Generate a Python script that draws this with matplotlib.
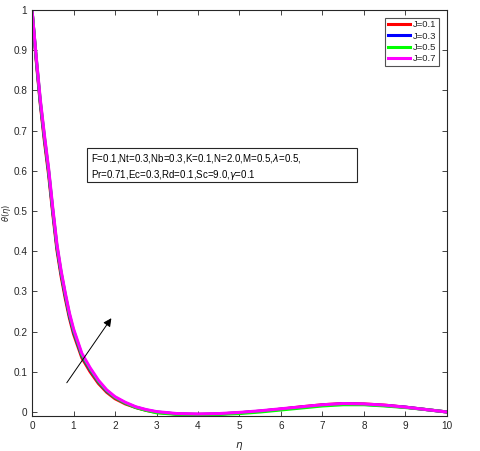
import matplotlib.pyplot as plt
from matplotlib.patches import Rectangle

# eta grid and theta profiles for each J
eta = [0, 0.1, 0.2, 0.3, 0.4, 0.5, 0.6, 0.7, 0.8, 0.9, 1.0, 1.2, 1.4, 1.6, 1.8, 2.0,
       2.25, 2.5, 2.75, 3.0, 3.5, 4.0, 4.5, 5.0, 5.5, 6.0, 6.5, 7.0, 7.5, 8.0, 8.5, 9.0, 9.5, 10.0]

theta_j01 = [1.0, 0.875, 0.765, 0.672, 0.59, 0.493, 0.403, 0.338, 0.283, 0.234, 0.194, 0.135, 0.1,
             0.071, 0.049, 0.033, 0.02, 0.011, 0.004, -0.001, -0.005, -0.006, -0.005, -0.002, 0.002,
             0.007, 0.013, 0.018, 0.021, 0.02, 0.017, 0.012, 0.006, 0.0]
theta_j03 = [1.0, 0.88, 0.77, 0.68, 0.598, 0.5, 0.41, 0.345, 0.29, 0.24, 0.2, 0.14, 0.105,
             0.075, 0.052, 0.036, 0.022, 0.012, 0.005, 0.0, -0.005, -0.006, -0.005, -0.002, 0.002,
             0.007, 0.012, 0.017, 0.02, 0.019, 0.016, 0.012, 0.006, 0.0]
theta_j05 = [1.0, 0.882, 0.773, 0.683, 0.601, 0.503, 0.413, 0.348, 0.293, 0.243, 0.203, 0.142, 0.107,
             0.076, 0.053, 0.036, 0.022, 0.011, 0.004, -0.002, -0.006, -0.007, -0.006, -0.004, 0.0,
             0.005, 0.01, 0.015, 0.018, 0.018, 0.015, 0.011, 0.006, 0.0]
theta_j07 = [1.0, 0.885, 0.777, 0.688, 0.606, 0.508, 0.418, 0.352, 0.297, 0.247, 0.207, 0.146, 0.11,
             0.079, 0.055, 0.038, 0.024, 0.013, 0.006, 0.001, -0.004, -0.005, -0.004, -0.001, 0.003,
             0.008, 0.013, 0.018, 0.021, 0.02, 0.017, 0.012, 0.006, 0.0]

labels = ['J=0.1', 'J=0.3', 'J=0.5', 'J=0.7']
colors = ['#ff0000', '#0000ff', '#00ff00', '#ff00ff']
series = [theta_j01, theta_j03, theta_j05, theta_j07]

plt.rcParams['font.family'] = ['Liberation Sans', 'DejaVu Sans']

fig = plt.figure(figsize=(4.8, 4.51), dpi=100)
ax = fig.add_axes([0.0667, 0.0776, 0.8645, 0.9002])

for th, c, lab in zip(series, colors, labels):
    ax.plot(eta, th, color=c, lw=2.2, label=lab)

ax.set_xlim(0, 10)
ax.set_ylim(-0.01, 1)
ax.set_xticks(range(0, 11))
ax.set_yticks([i / 10 for i in range(11)])
ax.set_yticklabels(['0', '0.1', '0.2', '0.3', '0.4', '0.5', '0.6', '0.7', '0.8', '0.9', '1'])

dark = '#262626'
for s in ax.spines.values():
    s.set_color(dark)
    s.set_linewidth(0.8)
ax.tick_params(direction='in', top=True, right=True, length=3.5, width=0.6,
               labelsize=7.2, colors=dark, pad=3.5)

ax.set_xlabel(r'$\eta$', fontsize=7.5, color=dark)
ax.xaxis.set_label_coords(0.5, -0.06)
ax.set_ylabel(r'$\theta(\eta)$', fontsize=6, color=dark)
ax.yaxis.set_label_coords(-0.046, 0.5)

leg = ax.legend(loc='upper right', fontsize=6.8, frameon=True, fancybox=False,
                edgecolor=dark, handlelength=2.4, handletextpad=0.3,
                borderpad=0.3, labelspacing=0.25, borderaxespad=0.8)
leg.get_frame().set_linewidth(0.8)
for t in leg.get_texts():
    t.set_color(dark)

# parameter text box
ax.add_patch(Rectangle((87 / 480, 1 - 182 / 451), 270 / 480, 34 / 451,
                       transform=fig.transFigure, fill=False, ec=dark, lw=0.8, zorder=5))
fig.text(91 / 480, 1 - 152 / 451,
         'F=0.1,Nt=0.3,Nb=0.3,K=0.1,N=2.0,M=0.5,$\\lambda$=0.5,\nPr=0.71,Ec=0.3,Rd=0.1,Sc=9.0,$\\gamma$=0.1',
         fontsize=7, va='top', ha='left', color='black', linespacing=1.35)

ax.annotate('', xy=(1.95, 0.239), xytext=(0.8, 0.067),
            arrowprops=dict(arrowstyle='-|>', color='black', lw=0.7, mutation_scale=12))

fig.savefig('out.png', dpi=100, facecolor='white')
